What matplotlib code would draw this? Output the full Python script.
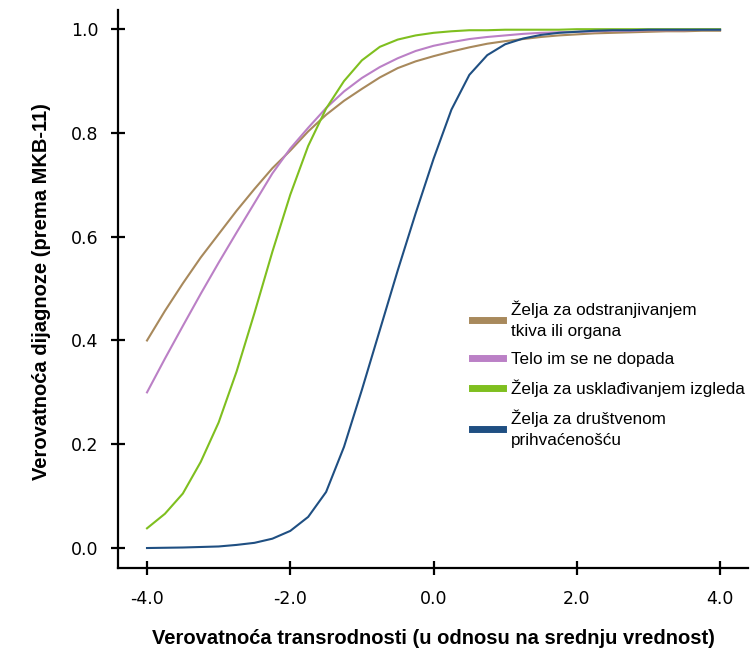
import matplotlib
matplotlib.use("Agg")
from matplotlib import pyplot as plt

# values, x step 0.25 from -4 to 4
x = [-4.0 + 0.25 * i for i in range(33)]

odstranjivanje = [0.400, 0.457, 0.510, 0.560, 0.605, 0.650, 0.692, 0.732, 0.766, 0.803, 0.835,
                  0.862, 0.885, 0.907, 0.925, 0.938, 0.948, 0.957, 0.965, 0.972, 0.977, 0.981,
                  0.985, 0.988, 0.990, 0.992, 0.993, 0.994, 0.995, 0.996, 0.996, 0.997, 0.997]
telo = [0.300, 0.365, 0.428, 0.490, 0.550, 0.608, 0.665, 0.722, 0.770, 0.810, 0.848,
        0.880, 0.906, 0.927, 0.944, 0.958, 0.968, 0.975, 0.981, 0.985, 0.988, 0.991,
        0.993, 0.994, 0.995, 0.996, 0.997, 0.997, 0.998, 0.998, 0.998, 0.999, 0.999]
izgled = [0.038, 0.066, 0.105, 0.166, 0.242, 0.340, 0.453, 0.571, 0.681, 0.775, 0.847,
          0.900, 0.940, 0.966, 0.980, 0.988, 0.993, 0.996, 0.998, 0.998, 0.999, 0.999,
          0.999, 0.999, 1.000, 1.000, 1.000, 1.000, 1.000, 1.000, 1.000, 1.000, 1.000]
prihvacenost = [0.000, 0.0005, 0.001, 0.002, 0.003, 0.006, 0.010, 0.018, 0.033, 0.060, 0.108,
                0.195, 0.305, 0.420, 0.535, 0.645, 0.750, 0.845, 0.912, 0.950, 0.971, 0.982,
                0.989, 0.993, 0.995, 0.997, 0.998, 0.998, 0.999, 0.999, 0.999, 0.999, 0.999]

labels = ["Želja za odstranjivanjem\ntkiva ili organa",
          "Telo im se ne dopada",
          "Želja za usklađivanjem izgleda",
          "Želja za društvenom\nprihvaćenošću"]
colors = ["#a8895c", "#bb80c6", "#7fbf1f", "#1f4f82"]

ticks_x = [-4.0, -2.0, 0.0, 2.0, 4.0]
ticks_y = [0.0, 0.2, 0.4, 0.6, 0.8, 1.0]

fig = plt.figure(figsize=(7.51, 6.60), dpi=100)
ax = fig.add_axes([118 / 751, 1 - 568 / 660, 630 / 751, 558 / 660])

for series, label, color in zip([odstranjivanje, telo, izgled, prihvacenost], labels, colors):
    ax.plot(x, series, color=color, lw=1.5, label=label)

ax.set_xlim(-4.405, 4.39)
ax.set_ylim(-0.0385, 1.037)
ax.spines["top"].set_visible(False)
ax.spines["right"].set_visible(False)
ax.spines["left"].set_linewidth(1.6)
ax.spines["bottom"].set_linewidth(1.6)

ax.set_xticks(ticks_x)
ax.set_xticklabels([f"{t:.1f}" for t in ticks_x])
ax.set_yticks(ticks_y)
ax.set_yticklabels([f"{t:.1f}" for t in ticks_y])
ax.tick_params(direction="inout", length=10, width=1.6, labelsize=12.5)
ax.tick_params(axis="x", pad=11)
ax.tick_params(axis="y", pad=9)
for lab in ax.get_xticklabels() + ax.get_yticklabels():
    lab.set_family("DejaVu Sans")

fig.text(433 / 751, 1 - 638 / 660, "Verovatnoća transrodnosti (u odnosu na srednju vrednost)",
         ha="center", va="center", fontsize=14.5, fontweight="bold", family="Liberation Sans")
fig.text(42 / 751, 1 - 292 / 660, "Verovatnoća dijagnoze (prema MKB-11)",
         ha="center", va="center", rotation=90, fontsize=14.5, fontweight="bold",
         family="Liberation Sans")

leg = ax.legend(loc="upper left", bbox_to_anchor=(472 / 751, 1 - 301 / 660),
                bbox_transform=fig.transFigure, frameon=False,
                handlelength=1.8, handletextpad=0.5, labelspacing=0.75,
                borderpad=0, borderaxespad=0,
                prop={"family": "Liberation Sans", "size": 12.3})
for line in leg.get_lines():
    line.set_linewidth(5)
for t in leg.get_texts():
    t.set_linespacing(1.45)

fig.savefig("out.png", dpi=100)
